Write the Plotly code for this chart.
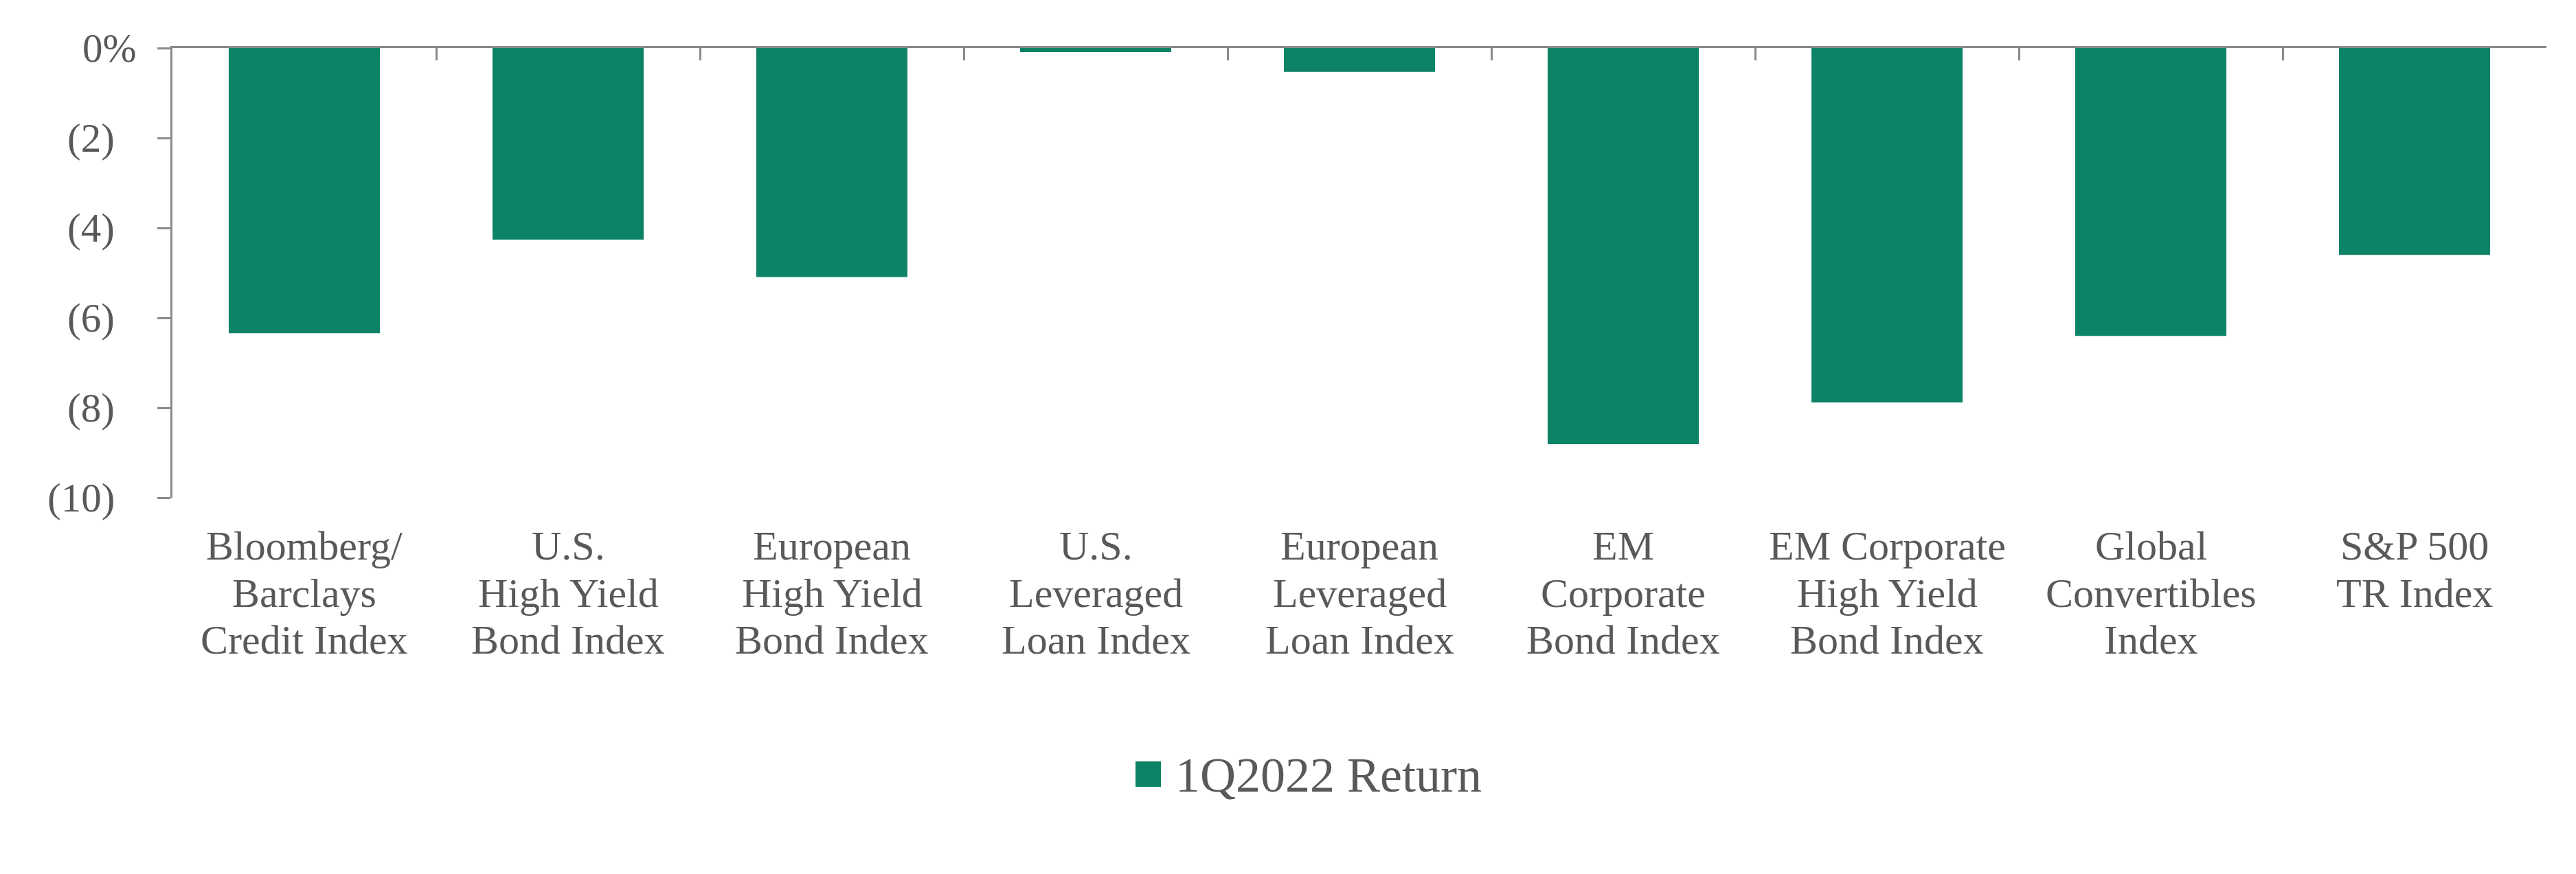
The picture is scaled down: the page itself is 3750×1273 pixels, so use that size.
import plotly.graph_objects as go

# Index names (line breaks as drawn under each bar)
categories = [
    "Bloomberg/<br>Barclays<br>Credit Index",
    "U.S.<br>High Yield<br>Bond Index",
    "European<br>High Yield<br>Bond Index",
    "U.S.<br>Leveraged<br>Loan Index",
    "European<br>Leveraged<br>Loan Index",
    "EM<br>Corporate<br>Bond Index",
    "EM Corporate<br>High Yield<br>Bond Index",
    "Global<br>Convertibles<br>Index",
    "S&P 500<br>TR Index",
]
# First-quarter 2022 total returns, in percent
returns = [-6.34, -4.26, -5.09, -0.09, -0.53, -8.81, -7.88, -6.40, -4.60]
series_name = "1Q2022 Return"

y_tick_values = [0, -2, -4, -6, -8, -10]
y_tick_labels = ["0%", "(2)", "(4)", "(6)", "(8)", "(10)"]

BAR_COLOR = "#0c8266"
TEXT_COLOR = "#595959"
AXIS_COLOR = "#8a8a8a"
FONT = "Liberation Serif, Times New Roman, serif"

W, H = 3750, 1273
M_L, M_R, M_T, M_B = 251, 43, 70, 548
plot_w = W - M_L - M_R
plot_h = H - M_T - M_B

fig = go.Figure()
fig.add_trace(go.Bar(
    x=categories,
    y=returns,
    name=series_name,
    marker=dict(color=BAR_COLOR, line=dict(width=0)),
    showlegend=False,
))

annotations = []

# y tick labels: the percent label sits closer to the axis than the bracketed ones
for v, lab in zip(y_tick_values, y_tick_labels):
    annotations.append(dict(
        x=0, xref="paper", y=v, yref="y",
        text=lab, showarrow=False,
        xanchor="right", yanchor="middle",
        xshift=-52 if lab.endswith("%") else -84,
        borderpad=0, borderwidth=0,
        font=dict(family=FONT, size=59, color=TEXT_COLOR),
    ))

# category labels, one annotation per text line for tighter line spacing
LINE_STEP = 68.5
FIRST_LINE_SHIFT = -70
for cat in categories:
    for i, line in enumerate(cat.split("<br>")):
        annotations.append(dict(
            x=cat, xref="x", y=0, yref="paper",
            text=line, showarrow=False,
            xanchor="center", yanchor="middle",
            yshift=FIRST_LINE_SHIFT - i * LINE_STEP,
            borderpad=0, borderwidth=0,
            font=dict(family=FONT, size=60, color=TEXT_COLOR),
        ))

# legend entry: colour key plus series name
def px_to_paper_x(px):
    return (px - M_L) / plot_w

def px_to_paper_y(py):
    return (H - M_B - py) / plot_h

annotations.append(dict(
    x=px_to_paper_x(1711), xref="paper", y=px_to_paper_y(1129), yref="paper",
    text=series_name, showarrow=False,
    xanchor="left", yanchor="middle",
    borderpad=0, borderwidth=0,
    font=dict(family=FONT, size=72, color=TEXT_COLOR),
))

shapes = [dict(
    type="rect", xref="paper", yref="paper",
    x0=px_to_paper_x(1653), x1=px_to_paper_x(1690),
    y0=px_to_paper_y(1146), y1=px_to_paper_y(1109),
    fillcolor=BAR_COLOR, line=dict(width=0),
)]

fig.update_layout(
    width=W, height=H,
    margin=dict(l=M_L, r=M_R, t=M_T, b=M_B, pad=0),
    paper_bgcolor="white", plot_bgcolor="white",
    bargap=0.427,
    showlegend=False,
    annotations=annotations,
    shapes=shapes,
    font=dict(family=FONT, color=TEXT_COLOR),
    xaxis=dict(
        type="category",
        side="top",
        showline=True, linecolor=AXIS_COLOR, linewidth=3,
        ticks="inside", tickson="boundaries", ticklen=18,
        tickwidth=3, tickcolor=AXIS_COLOR,
        showticklabels=False, showgrid=False, zeroline=False,
        automargin=False,
    ),
    yaxis=dict(
        range=[-10, 0],
        showline=True, linecolor=AXIS_COLOR, linewidth=3,
        ticks="outside", ticklen=19, tickwidth=3, tickcolor=AXIS_COLOR,
        tickvals=y_tick_values,
        showticklabels=False, showgrid=False, zeroline=False,
        automargin=False,
    ),
)

fig.write_html("out.html")
